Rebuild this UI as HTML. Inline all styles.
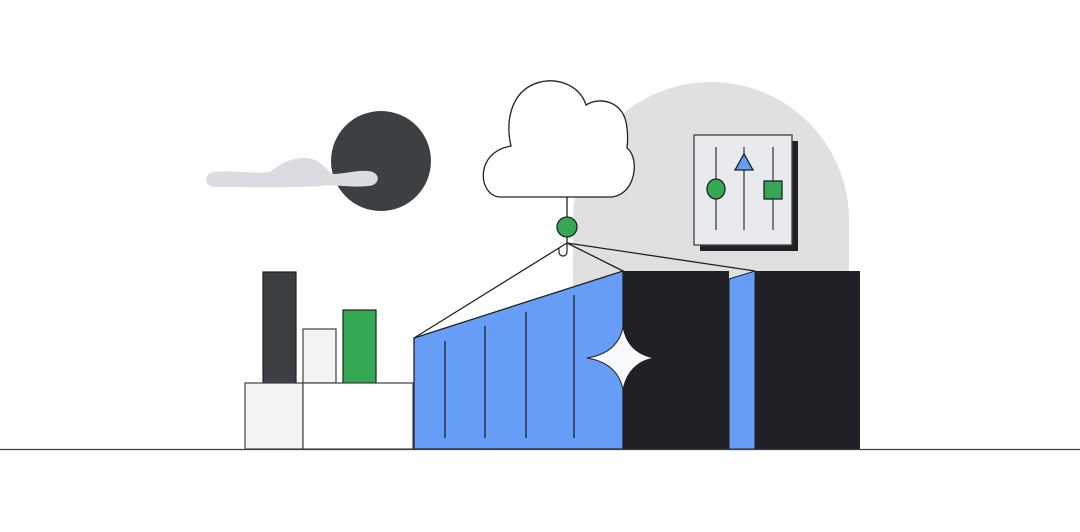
<!DOCTYPE html>
<html><head><meta charset="utf-8"><style>html,body{margin:0;padding:0;background:#fff}svg{display:block}</style></head>
<body>
<svg width="1080" height="532" viewBox="0 0 1080 532" xmlns="http://www.w3.org/2000/svg">
<rect width="1080" height="532" fill="#fff"/>
<path d="M573 449 L573 220 A138 138 0 0 1 849 220 L849 449 Z" fill="#e0e0e0"/>
<ellipse cx="381" cy="161" rx="50" ry="50" fill="#3c4043"/>
<path d="M215 172 C230 170 250 174 270 172 C280 164 290 158 305 158 C318 158 326 168 332 174 C345 174 355 170 368 171 C382 172 380 186 368 186 C350 188 335 184 320 186 C290 188 240 187 215 187 C203 186 203 173 215 172 Z" fill="#dadce0"/>
<path d="M500 197 C478 196 474 152 511 146 C505 120 512 96 530 86 C552 74 580 84 586 105 C600 96 622 102 626 122 C628 132 628 140 627 148 C640 158 636 194 612 197 Z" fill="#fff" stroke="#202124" stroke-width="1.3"/>
<line x1="567" y1="197" x2="567" y2="218" stroke="#202124" stroke-width="1.3"/>
<circle cx="567" cy="227" r="10" fill="#34a853" stroke="#202124" stroke-width="1.3"/>
<line x1="567" y1="237" x2="567" y2="245" stroke="#202124" stroke-width="1.3"/>
<path d="M567 245 L567 252 A4 4 0 0 1 559 252 L559 248" fill="none" stroke="#202124" stroke-width="1.2"/>
<rect x="700" y="141" width="98" height="110" fill="#202124"/>
<rect x="694" y="135" width="98" height="110" fill="#e8eaed" stroke="#3c4043" stroke-width="1.3"/>
<line x1="716" y1="147" x2="716" y2="230" stroke="#3c4043" stroke-width="1.3"/>
<line x1="744" y1="147" x2="744" y2="230" stroke="#3c4043" stroke-width="1.3"/>
<line x1="773" y1="147" x2="773" y2="230" stroke="#3c4043" stroke-width="1.3"/>
<ellipse cx="716" cy="189" rx="9" ry="10" fill="#34a853" stroke="#202124" stroke-width="1.3"/>
<polygon points="744,154 735,170 753,170" fill="#669df6" stroke="#202124" stroke-width="1.3"/>
<rect x="764" y="181" width="18" height="18" fill="#34a853" stroke="#202124" stroke-width="1.3"/>
<line x1="567" y1="243" x2="414" y2="338" stroke="#202124" stroke-width="1.3"/>
<line x1="567" y1="243" x2="623" y2="271" stroke="#202124" stroke-width="1.3"/>
<line x1="567" y1="243" x2="755" y2="271" stroke="#202124" stroke-width="1.3"/>
<polygon points="414,338 623,271 623,449 414,449" fill="#669df6" stroke="#202124" stroke-width="1.3"/>
<line x1="445" y1="341" x2="445" y2="438" stroke="#202124" stroke-width="1.3"/>
<line x1="485" y1="326" x2="485" y2="438" stroke="#202124" stroke-width="1.3"/>
<line x1="526" y1="312" x2="526" y2="438" stroke="#202124" stroke-width="1.3"/>
<line x1="574" y1="295" x2="574" y2="438" stroke="#202124" stroke-width="1.3"/>
<rect x="623" y="271" width="106" height="178" fill="#202124"/>
<polygon points="729,279 755,271 755,449 729,449" fill="#669df6" stroke="#202124" stroke-width="1"/>
<rect x="755" y="271" width="105" height="178" fill="#202124"/>
<path d="M623 327 Q628 353 654 358 Q628 363 623 390 Q618 363 587 358 Q618 353 623 327 Z" fill="#f8f9fa" stroke="#202124" stroke-width="1"/>
<rect x="263" y="272" width="33" height="111" fill="#3c4043" stroke="#202124" stroke-width="1.2"/>
<rect x="303" y="329" width="33" height="54" fill="#f1f3f4" stroke="#3c4043" stroke-width="1.2"/>
<rect x="343" y="310" width="33" height="73" fill="#34a853" stroke="#202124" stroke-width="1.2"/>
<rect x="245" y="383" width="58" height="66" fill="#f1f3f4" stroke="#3c4043" stroke-width="1.2"/>
<rect x="303" y="383" width="110" height="66" fill="#fff" stroke="#3c4043" stroke-width="1.2"/>
<line x1="0" y1="449.5" x2="1080" y2="449.5" stroke="#3c4043" stroke-width="1.3"/>
</svg>
</body></html>
